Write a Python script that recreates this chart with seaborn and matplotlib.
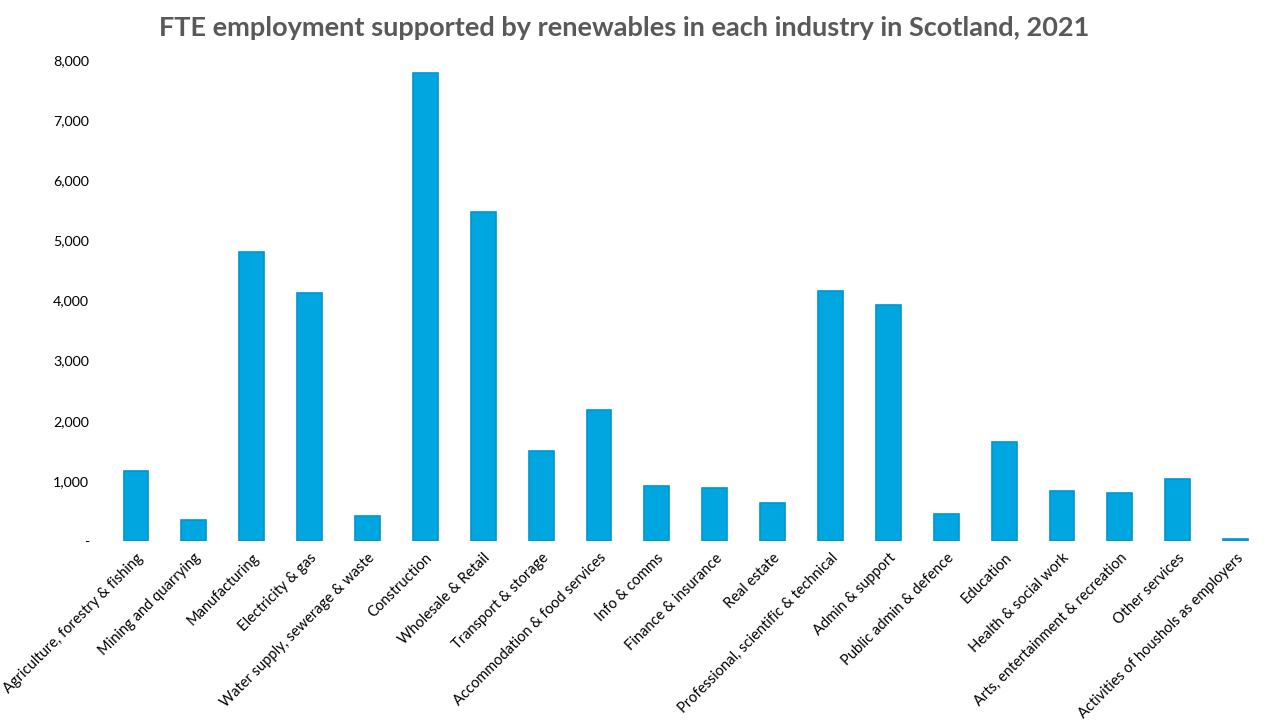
import matplotlib
matplotlib.use("Agg")
import matplotlib.pyplot as plt
import seaborn as sns
import pandas as pd
from matplotlib.ticker import FuncFormatter

industries = [
    "Agriculture, forestry & fishing", "Mining and quarrying", "Manufacturing",
    "Electricity & gas", "Water supply, sewerage & waste", "Construction",
    "Wholesale & Retail", "Transport & storage", "Accommodation & food services",
    "Info & comms", "Finance & insurance", "Real estate",
    "Professional, scientific & technical", "Admin & support",
    "Public admin & defence", "Education", "Health & social work",
    "Arts, entertainment & recreation", "Other services",
    "Activities of houshols as employers",
]
fte = [1165, 350, 4810, 4125, 415, 7790, 5475, 1500, 2180, 915,
       880, 630, 4160, 3925, 450, 1650, 830, 800, 1030, 35]

df = pd.DataFrame({"industry": industries, "fte": fte})

sns.set_theme(style="white")
plt.rcParams["font.family"] = ["Lato", "DejaVu Sans"]

fig = plt.figure(figsize=(12.8, 7.2), dpi=100)
ax = fig.add_axes([0.0836, 0.2486, 0.9044, 0.6681])

sns.barplot(data=df, x="industry", y="fte", color="#00A6E0", width=0.43,
            saturation=1, edgecolor="#0096CE", linewidth=1.2, ax=ax)

ax.set_ylim(0, 8000)
ax.set_yticks(range(0, 8001, 1000))
ax.yaxis.set_major_formatter(FuncFormatter(lambda v, p: "-" if v == 0 else f"{int(v):,}"))
ax.tick_params(axis="y", labelsize=10.3, colors="#000000", length=0, pad=13)
ax.tick_params(axis="x", labelsize=10.5, colors="#000000", length=0, pad=7)
plt.setp(ax.get_xticklabels(), rotation=45, ha="right", rotation_mode="anchor")
ax.set_xlabel("")
ax.set_ylabel("")
for s in ax.spines.values():
    s.set_visible(False)
ax.grid(False)

fig.suptitle("FTE employment supported by renewables in each industry in Scotland, 2021",
             x=0.488, y=0.978, fontsize=19.5, fontweight="bold", color="#595959")

fig.savefig("out.png", dpi=100)
